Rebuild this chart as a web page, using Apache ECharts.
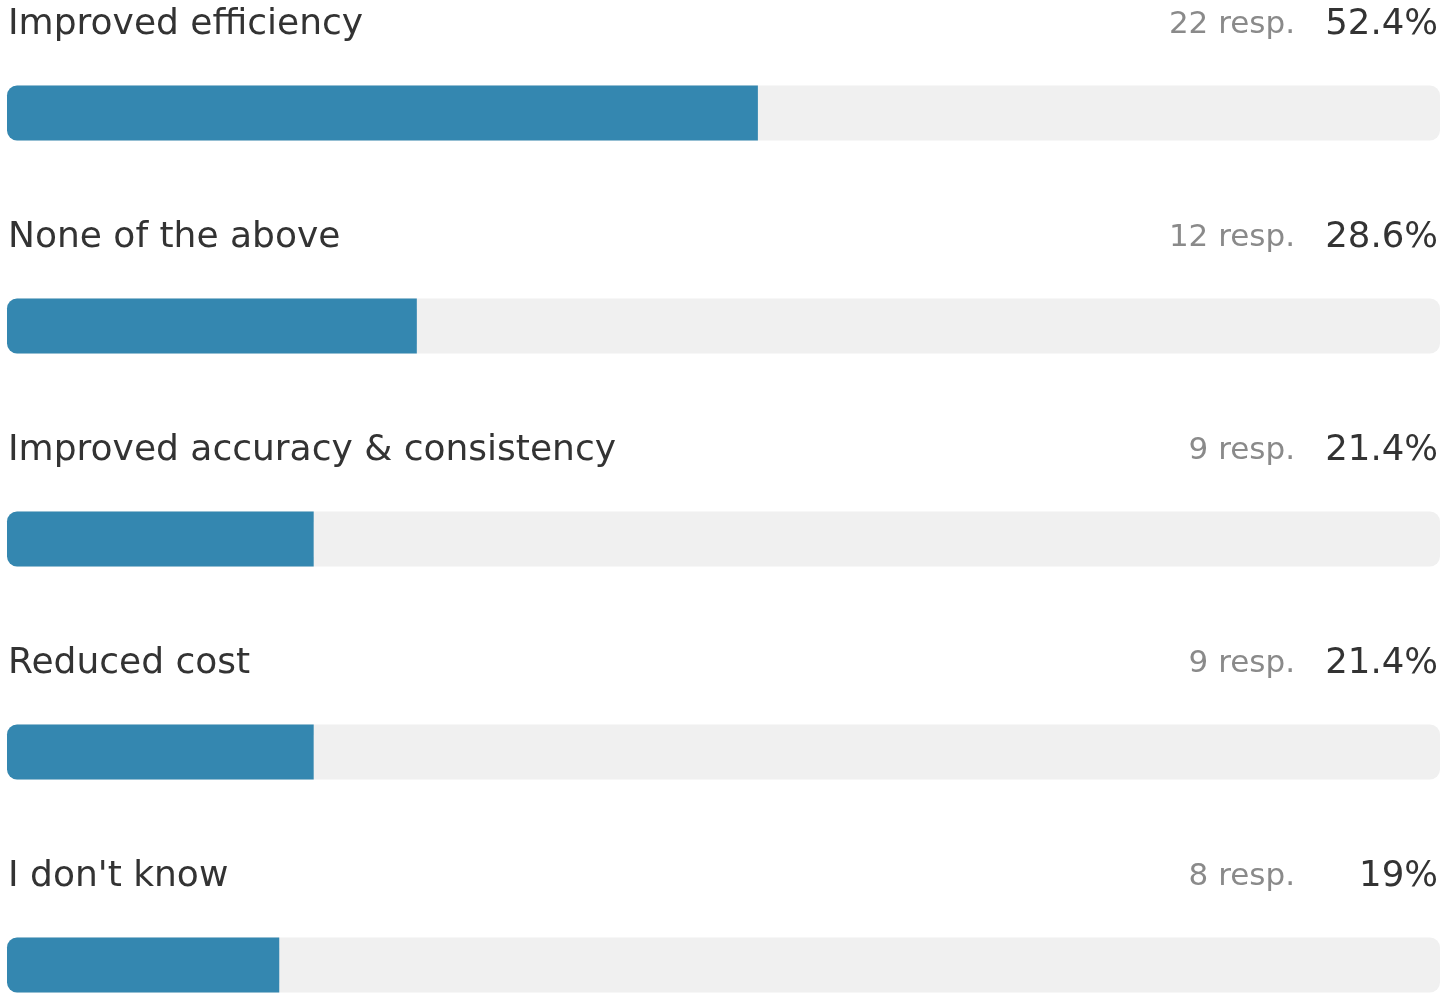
<!DOCTYPE html>
<html>
<head>
<meta charset="utf-8">
<script src="https://cdn.jsdelivr.net/npm/echarts@6/dist/echarts.min.js"></script>
<style>
html,body{margin:0;padding:0;background:#fff;}
#main{width:1442px;height:994px;}
</style>
</head>
<body>
<div id="main"></div>
<script>
var categories = ['Improved efficiency', 'None of the above', 'Improved accuracy & consistency', 'Reduced cost', "I don't know"];
var responses = [22, 12, 9, 9, 8];
var percents = [52.4, 28.6, 21.4, 21.4, 19];
var trackValues = [100, 100, 100, 100, 100];

var FONT = '"DejaVu Sans", sans-serif';
var chart = echarts.init(document.getElementById('main'), null, {renderer: 'canvas'});
chart.setOption({
  animation: false,
  grid: {left: 7, right: 2, top: 113, bottom: 29, containLabel: false},
  xAxis: {type: 'value', min: 0, max: 100, show: false},
  yAxis: {type: 'category', data: categories, inverse: true, boundaryGap: false, show: false},
  series: [
    {
      type: 'bar',
      data: trackValues,
      barWidth: 55,
      barGap: '-100%',
      silent: true,
      itemStyle: {color: '#f0f0f0', borderRadius: 10},
      label: {
        show: true,
        position: ['100%', -61],
        align: 'right',
        verticalAlign: 'middle',
        offset: [-2, 0],
        formatter: function (p) {
          return '{r|' + responses[p.dataIndex] + ' resp.}{p|' + percents[p.dataIndex] + '%}';
        },
        rich: {
          r: {fontFamily: FONT, fontSize: 31, color: '#8a8a8a'},
          p: {fontFamily: FONT, fontSize: 35.5, color: '#333333', width: 143, align: 'right'}
        }
      },
      z: 1
    },
    {
      type: 'bar',
      data: percents,
      barWidth: 55,
      barGap: '-100%',
      silent: true,
      itemStyle: {color: '#3487b0', borderRadius: [10, 0, 0, 10]},
      label: {
        show: true,
        position: [1, -61],
        align: 'left',
        verticalAlign: 'middle',
        fontFamily: FONT,
        fontSize: 36,
        color: '#333333',
        formatter: function (p) { return categories[p.dataIndex]; }
      },
      z: 2
    }
  ]
});
</script>
</body>
</html>
